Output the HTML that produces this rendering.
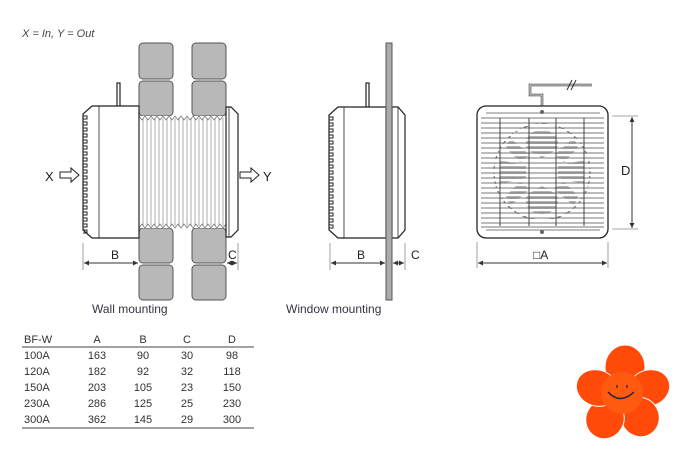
<!DOCTYPE html>
<html><head><meta charset="utf-8"><style>
html,body{margin:0;padding:0;background:#fff;width:693px;height:460px;overflow:hidden}
svg{display:block}
text{font-family:"Liberation Sans",Arial,sans-serif}
</style></head><body>
<svg width="693" height="460" viewBox="0 0 693 460" xmlns="http://www.w3.org/2000/svg">
<defs>
<marker id="ar" markerWidth="6" markerHeight="6" refX="5" refY="3" orient="auto"><path d="M0,0.5 L5,3 L0,5.5 z" fill="#333"/></marker>
<marker id="al" markerWidth="6" markerHeight="6" refX="1" refY="3" orient="auto"><path d="M6,0.5 L1,3 L6,5.5 z" fill="#333"/></marker>
</defs>
<text x="22" y="37" font-size="11" font-style="italic" fill="#444">X = In, Y = Out</text>

<!-- Wall mounting -->
<g stroke="#555" stroke-width="1" fill="#b8b8b8">
<rect x="139" y="43" width="34" height="36" rx="4"/>
<rect x="139" y="81" width="34" height="35" rx="4"/>
<rect x="139" y="228" width="34" height="35" rx="4"/>
<rect x="139" y="265" width="34" height="35" rx="4"/>
<rect x="192" y="43" width="34" height="36" rx="4"/>
<rect x="192" y="81" width="34" height="35" rx="4"/>
<rect x="192" y="228" width="34" height="35" rx="4"/>
<rect x="192" y="265" width="34" height="35" rx="4"/>
</g>
<rect x="139" y="116" width="87" height="112" fill="#fff"/>
<g stroke="#bbb" stroke-width="1.2">
<line x1="143" y1="118" x2="143" y2="226"/><line x1="147" y1="118" x2="147" y2="226"/><line x1="151" y1="118" x2="151" y2="226"/><line x1="155" y1="118" x2="155" y2="226"/><line x1="159" y1="118" x2="159" y2="226"/><line x1="163" y1="118" x2="163" y2="226"/><line x1="167" y1="118" x2="167" y2="226"/><line x1="171" y1="118" x2="171" y2="226"/><line x1="175" y1="118" x2="175" y2="226"/><line x1="179" y1="118" x2="179" y2="226"/><line x1="183" y1="118" x2="183" y2="226"/><line x1="187" y1="118" x2="187" y2="226"/><line x1="191" y1="118" x2="191" y2="226"/><line x1="195" y1="118" x2="195" y2="226"/><line x1="199" y1="118" x2="199" y2="226"/><line x1="203" y1="118" x2="203" y2="226"/><line x1="207" y1="118" x2="207" y2="226"/><line x1="211" y1="118" x2="211" y2="226"/><line x1="215" y1="118" x2="215" y2="226"/><line x1="219" y1="118" x2="219" y2="226"/><line x1="223" y1="118" x2="223" y2="226"/>
</g>
<path d="M139,116 l3,4 3,-4 3,4 3,-4 3,4 3,-4 3,4 3,-4 3,4 3,-4 3,4 3,-4 3,4 3,-4 3,4 3,-4 3,4 3,-4 3,4 3,-4 3,4 3,-4 3,4 3,-4 3,4 3,-4 3,4 3,-4 M139,228 l3,-4 3,4 3,-4 3,4 3,-4 3,4 3,-4 3,4 3,-4 3,4 3,-4 3,4 3,-4 3,4 3,-4 3,4 3,-4 3,4 3,-4 3,4 3,-4 3,4 3,-4 3,4 3,-4 3,4 3,-4 3,4 3,-4" fill="none" stroke="#777" stroke-width="0.8"/>
<g fill="#fff" stroke="#222" stroke-width="1.2">
<rect x="117" y="83" width="3" height="24"/>
<path d="M92,106 L139,106 L139,238 L92,238 L83,230 L83,114 Z"/>
<line x1="99" y1="106" x2="99" y2="238" stroke-width="0.8"/>
<path d="M226,107 L231,107 L238,114 L238,230 L231,237 L226,237 Z"/>
<line x1="229" y1="107" x2="229" y2="237" stroke-width="0.8"/>
</g>
<path d="M83,116 h4 v3 h-4 v3 h4 v3 h-4 v3 h4 v3 h-4 v3 h4 v3 h-4 v3 h4 v3 h-4 v3 h4 v3 h-4 v3 h4 v3 h-4 v3 h4 v3 h-4 v3 h4 v3 h-4 v3 h4 v3 h-4 v3 h4 v3 h-4 v3 h4 v3 h-4 v3 h4 v3 h-4 v3 h4 v3 h-4 v3 h4 v3 h-4 v3 h4 v3 h-4 v3 h4 v3 h-4 v3 h4 v3 h-4 v3 h4 v3 h-4 v3 h4 v3 h-4" fill="none" stroke="#222" stroke-width="1"/>
<text x="45" y="181" font-size="13" fill="#222">X</text>
<path d="M60,172 h11 v-4 l8,7 -8,7 v-4 h-11 z" fill="#fff" stroke="#222"/>
<path d="M240,172 h11 v-4 l8,7 -8,7 v-4 h-11 z" fill="#fff" stroke="#222"/>
<text x="263" y="181" font-size="13" fill="#222">Y</text>
<g stroke="#888" stroke-width="0.8"><line x1="83" y1="243" x2="83" y2="270"/><line x1="238" y1="243" x2="238" y2="270"/></g>
<line x1="84" y1="263" x2="138" y2="263" stroke="#333" marker-start="url(#al)" marker-end="url(#ar)"/>
<line x1="227" y1="263" x2="237" y2="263" stroke="#333" marker-start="url(#al)" marker-end="url(#ar)"/>
<text x="111" y="259" font-size="12" fill="#222">B</text>
<text x="228" y="259" font-size="12" fill="#222">C</text>
<text x="92" y="313" font-size="12" fill="#334">Wall mounting</text>

<!-- Window mounting -->
<g fill="#fff" stroke="#222" stroke-width="1.2">
<rect x="366" y="83" width="3" height="24"/>
<path d="M338,107 L386,107 L386,238 L338,238 L329,230 L329,115 Z"/>
<line x1="344" y1="107" x2="344" y2="238" stroke-width="0.8"/>
<path d="M392,107 L398,107 L405,115 L405,230 L398,238 L392,238 Z"/>
<line x1="398" y1="107" x2="398" y2="238" stroke-width="0.8"/>
</g>
<path d="M329,117 h4 v3 h-4 v3 h4 v3 h-4 v3 h4 v3 h-4 v3 h4 v3 h-4 v3 h4 v3 h-4 v3 h4 v3 h-4 v3 h4 v3 h-4 v3 h4 v3 h-4 v3 h4 v3 h-4 v3 h4 v3 h-4 v3 h4 v3 h-4 v3 h4 v3 h-4 v3 h4 v3 h-4 v3 h4 v3 h-4 v3 h4 v3 h-4 v3 h4 v3 h-4 v3 h4 v3 h-4 v3 h4 v3 h-4 v3 h4 v3 h-4" fill="none" stroke="#222" stroke-width="1"/>
<rect x="386" y="43" width="6" height="257" fill="#aaa" stroke="#555" stroke-width="1"/>
<g stroke="#888" stroke-width="0.8"><line x1="330" y1="243" x2="330" y2="270"/><line x1="405" y1="243" x2="405" y2="270"/></g>
<line x1="331" y1="263" x2="385" y2="263" stroke="#333" marker-start="url(#al)" marker-end="url(#ar)"/>
<line x1="393" y1="263" x2="404" y2="263" stroke="#333" marker-start="url(#al)" marker-end="url(#ar)"/>
<text x="357" y="259" font-size="12" fill="#222">B</text>
<text x="411" y="259" font-size="12" fill="#222">C</text>
<text x="286" y="313" font-size="12" fill="#334">Window mounting</text>

<!-- Front view -->
<path d="M542,106 V95 H530 V85 H592" fill="none" stroke="#333" stroke-width="2.5"/>
<path d="M542,106 V95 H530 V85 H592" fill="none" stroke="#fff" stroke-width="1"/>
<path d="M567,90 l5,-10 M571,90 l5,-10" stroke="#333" stroke-width="1"/>
<rect x="477" y="106" width="131" height="132" rx="9" fill="#fff" stroke="#222" stroke-width="1.3"/>
<line x1="486" y1="113" x2="600" y2="113" stroke="#555" stroke-width="0.8"/>
<line x1="486" y1="230" x2="600" y2="230" stroke="#555" stroke-width="0.8"/>
<!-- fan blades (gray) -->
<g fill="#999" opacity="0.8">
<path d="M542,130 C530,130 522,140 528,150 L542,158 L556,150 C562,140 554,130 542,130 Z"/>
<path d="M542,214 C530,214 522,204 528,194 L542,186 L556,194 C562,204 554,214 542,214 Z"/>
<path d="M500,160 L526,166 L526,178 L500,184 Z"/>
<path d="M584,160 L558,166 L558,178 L584,184 Z"/>
<path d="M510,138 L530,155 L520,162 L506,148 Z"/>
<path d="M574,138 L554,155 L564,162 L578,148 Z"/>
<path d="M510,206 L530,189 L520,182 L506,196 Z"/>
<path d="M574,206 L554,189 L564,182 L578,196 Z"/>
</g>
<circle cx="542" cy="172" r="48" fill="none" stroke="#666" stroke-width="1.2" stroke-dasharray="6 3"/>
<g stroke="#fff" stroke-width="2.2">
<line x1="481" y1="120" x2="604" y2="120"/><line x1="481" y1="125" x2="604" y2="125"/><line x1="481" y1="130" x2="604" y2="130"/><line x1="481" y1="135" x2="604" y2="135"/><line x1="481" y1="140" x2="604" y2="140"/><line x1="481" y1="145" x2="604" y2="145"/><line x1="481" y1="150" x2="604" y2="150"/><line x1="481" y1="155" x2="604" y2="155"/><line x1="481" y1="160" x2="604" y2="160"/><line x1="481" y1="165" x2="604" y2="165"/><line x1="481" y1="170" x2="604" y2="170"/><line x1="481" y1="175" x2="604" y2="175"/><line x1="481" y1="180" x2="604" y2="180"/><line x1="481" y1="185" x2="604" y2="185"/><line x1="481" y1="190" x2="604" y2="190"/><line x1="481" y1="195" x2="604" y2="195"/><line x1="481" y1="200" x2="604" y2="200"/><line x1="481" y1="205" x2="604" y2="205"/><line x1="481" y1="210" x2="604" y2="210"/><line x1="481" y1="215" x2="604" y2="215"/><line x1="481" y1="220" x2="604" y2="220"/><line x1="481" y1="225" x2="604" y2="225"/>
</g>
<g stroke="#777" stroke-width="0.9">
<line x1="481" y1="118" x2="604" y2="118"/><line x1="481" y1="123" x2="604" y2="123"/><line x1="481" y1="128" x2="604" y2="128"/><line x1="481" y1="133" x2="604" y2="133"/><line x1="481" y1="138" x2="604" y2="138"/><line x1="481" y1="143" x2="604" y2="143"/><line x1="481" y1="148" x2="604" y2="148"/><line x1="481" y1="153" x2="604" y2="153"/><line x1="481" y1="158" x2="604" y2="158"/><line x1="481" y1="163" x2="604" y2="163"/><line x1="481" y1="168" x2="604" y2="168"/><line x1="481" y1="173" x2="604" y2="173"/><line x1="481" y1="178" x2="604" y2="178"/><line x1="481" y1="183" x2="604" y2="183"/><line x1="481" y1="188" x2="604" y2="188"/><line x1="481" y1="193" x2="604" y2="193"/><line x1="481" y1="198" x2="604" y2="198"/><line x1="481" y1="203" x2="604" y2="203"/><line x1="481" y1="208" x2="604" y2="208"/><line x1="481" y1="213" x2="604" y2="213"/><line x1="481" y1="218" x2="604" y2="218"/><line x1="481" y1="223" x2="604" y2="223"/><line x1="481" y1="227" x2="604" y2="227"/>
</g>
<g stroke="#444" stroke-width="1"><line x1="500" y1="118" x2="500" y2="226"/><line x1="529" y1="118" x2="529" y2="226"/><line x1="556" y1="118" x2="556" y2="226"/><line x1="584" y1="118" x2="584" y2="226"/></g>
<circle cx="542" cy="112" r="2" fill="#666"/><circle cx="542" cy="232" r="2" fill="#666"/>
<g stroke="#888" stroke-width="0.8"><line x1="612" y1="116" x2="638" y2="116"/><line x1="612" y1="229" x2="638" y2="229"/><line x1="477" y1="242" x2="477" y2="268"/><line x1="608" y1="242" x2="608" y2="268"/></g>
<line x1="632" y1="117" x2="632" y2="228" stroke="#333" marker-start="url(#al)" marker-end="url(#ar)"/>
<text x="621" y="175" font-size="13" fill="#222">D</text>
<line x1="478" y1="263" x2="607" y2="263" stroke="#333" marker-start="url(#al)" marker-end="url(#ar)"/>
<text x="533" y="259" font-size="12" fill="#222">□A</text>

<!-- Table -->
<g font-size="11" fill="#333">
<text x="24" y="343">BF-W</text><text x="97" y="343" text-anchor="middle">A</text><text x="143" y="343" text-anchor="middle">B</text><text x="187" y="343" text-anchor="middle">C</text><text x="232" y="343" text-anchor="middle">D</text>
<text x="24" y="359">100A</text><text x="97" y="359" text-anchor="middle">163</text><text x="143" y="359" text-anchor="middle">90</text><text x="187" y="359" text-anchor="middle">30</text><text x="232" y="359" text-anchor="middle">98</text>
<text x="24" y="375">120A</text><text x="97" y="375" text-anchor="middle">182</text><text x="143" y="375" text-anchor="middle">92</text><text x="187" y="375" text-anchor="middle">32</text><text x="232" y="375" text-anchor="middle">118</text>
<text x="24" y="391">150A</text><text x="97" y="391" text-anchor="middle">203</text><text x="143" y="391" text-anchor="middle">105</text><text x="187" y="391" text-anchor="middle">23</text><text x="232" y="391" text-anchor="middle">150</text>
<text x="24" y="407">230A</text><text x="97" y="407" text-anchor="middle">286</text><text x="143" y="407" text-anchor="middle">125</text><text x="187" y="407" text-anchor="middle">25</text><text x="232" y="407" text-anchor="middle">230</text>
<text x="24" y="423">300A</text><text x="97" y="423" text-anchor="middle">362</text><text x="143" y="423" text-anchor="middle">145</text><text x="187" y="423" text-anchor="middle">29</text><text x="232" y="423" text-anchor="middle">300</text>
</g>
<line x1="22" y1="347" x2="254" y2="347" stroke="#444" stroke-width="1"/>
<line x1="22" y1="428" x2="254" y2="428" stroke="#444" stroke-width="1"/>

<!-- Flower -->
<g fill="#ff4a0a" stroke="#fff" stroke-width="1">
<ellipse cx="625" cy="367" rx="20" ry="22"/>
<ellipse cx="649" cy="388" rx="21" ry="18" transform="rotate(-20 649 388)"/>
<ellipse cx="640" cy="417" rx="19" ry="20" transform="rotate(-30 640 417)"/>
<ellipse cx="605" cy="419" rx="19" ry="20" transform="rotate(30 605 419)"/>
<ellipse cx="597" cy="388" rx="21" ry="18" transform="rotate(20 597 388)"/>
</g>
<circle cx="622" cy="393" r="21" fill="#ff5a10"/>
<path d="M608,392 Q620,405 634,392" fill="none" stroke="#223" stroke-width="1.5"/>
<path d="M617,385 v3 M627,385 v3" stroke="#223" stroke-width="1.3"/>
</svg>
</body></html>
